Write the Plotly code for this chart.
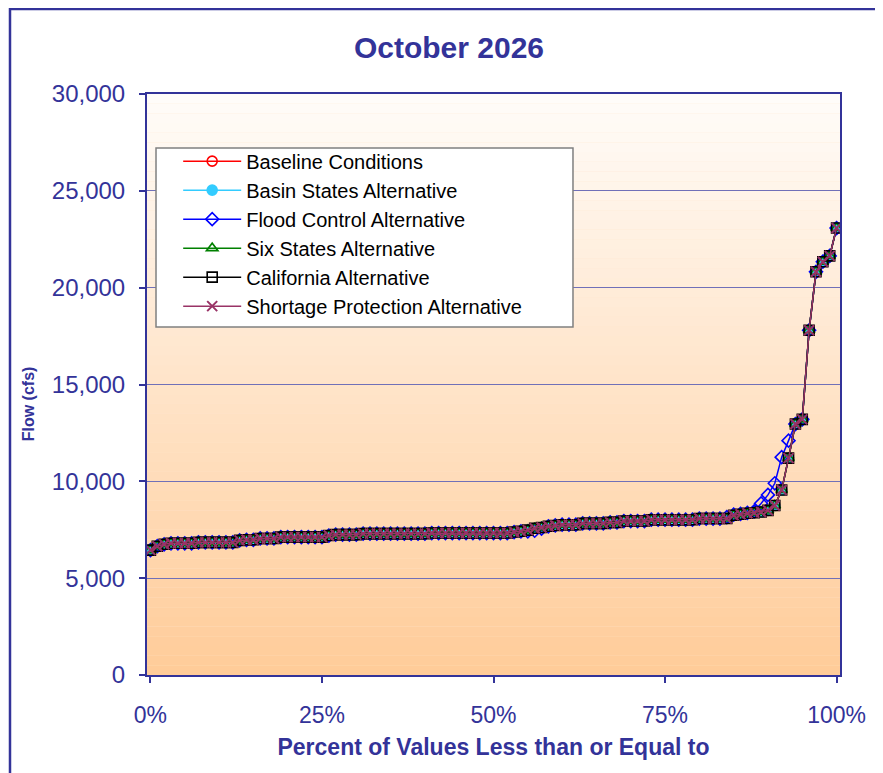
import numpy as np
import plotly.graph_objects as go

# Flow duration values for October 2026, sorted ascending (cfs), one per percent step
baseline = [
    6450, 6650, 6750, 6800, 6800, 6800, 6800, 6850, 6850, 6850,
    6850, 6850, 6850, 6950, 6980, 6980, 7050, 7050, 7050, 7120,
    7120, 7120, 7120, 7120, 7120, 7120, 7200, 7250, 7250, 7250,
    7250, 7300, 7300, 7300, 7300, 7300, 7300, 7300, 7300, 7300,
    7300, 7330, 7330, 7330, 7330, 7330, 7330, 7330, 7330, 7330,
    7330, 7330, 7330, 7380, 7420, 7480, 7580, 7620, 7680, 7720,
    7760, 7760, 7760, 7830, 7830, 7830, 7830, 7880, 7880, 7950,
    7950, 7950, 7950, 8020, 8020, 8020, 8020, 8020, 8020, 8020,
    8080, 8080, 8080, 8080, 8080, 8250, 8300, 8350, 8380, 8420,
    8500, 8750, 9550, 11200, 12960, 13200, 17800, 20820, 21340, 21640,
    23080,
]
flood_control = [
    6450, 6650, 6750, 6800, 6800, 6800, 6800, 6850, 6850, 6850,
    6850, 6850, 6850, 6950, 6980, 6980, 7050, 7050, 7050, 7120,
    7120, 7120, 7120, 7120, 7120, 7120, 7200, 7250, 7250, 7250,
    7250, 7300, 7300, 7300, 7300, 7300, 7300, 7300, 7300, 7300,
    7300, 7330, 7330, 7330, 7330, 7330, 7330, 7330, 7330, 7330,
    7330, 7330, 7330, 7380, 7420, 7420, 7450, 7560, 7680, 7720,
    7760, 7760, 7760, 7830, 7830, 7830, 7830, 7880, 7880, 7950,
    7950, 7950, 7950, 8020, 8020, 8020, 8020, 8020, 8020, 8020,
    8080, 8080, 8080, 8080, 8150, 8280, 8320, 8370, 8450, 8860,
    9300, 9900, 11250, 12100, 12960, 13200, 17800, 20820, 21340, 21640,
    23080,
]
# the other alternatives overlap the baseline curve at this scale
basin_states = list(baseline)
six_states = list(baseline)
california = list(baseline)
shortage_protection = list(baseline)

percent = np.arange(len(baseline)) / (len(baseline) - 1)

series = [
    ("Baseline Conditions", baseline, "#FF0000", "circle-open"),
    ("Basin States Alternative", basin_states, "#33CCFF", "circle"),
    ("Flood Control Alternative", flood_control, "#0000FF", "diamond-open"),
    ("Six States Alternative", six_states, "#008000", "triangle-up-open"),
    ("California Alternative", california, "#000000", "square-open"),
    ("Shortage Protection Alternative", shortage_protection, "#993366", "x-thin-open"),
]

NAVY = "#333399"
FONT = "Liberation Sans, Arial, sans-serif"

fig = go.Figure()
for i, (name, vals, color, symbol) in enumerate(series):
    fig.add_trace(go.Scatter(
        x=percent, y=vals, name=name, mode="lines+markers",
        legendgroup=str(i),
        line=dict(color=color, width=1.5),
        marker=dict(symbol=symbol, size=10, color=color,
                    line=dict(color=color, width=1.6 if symbol != "x-thin-open" else 2)),
    ))

# gradient fill of the plot area (white at top to peach at bottom)
shapes = []
nb = 60
top = np.array([255, 253, 250])
bot = np.array([255, 204, 153])
for k in range(nb):
    t = (k + 0.5) / nb
    c = bot + (top - bot) * t
    shapes.append(dict(type="rect", xref="paper", yref="paper",
                       x0=0, x1=1, y0=k / nb, y1=(k + 1) / nb,
                       fillcolor="rgb(%d,%d,%d)" % tuple(c), line=dict(width=0),
                       layer="below"))
# legend box
shapes.append(dict(type="rect", xref="paper", yref="paper",
                   x0=0.013, x1=0.6147, y0=0.599, y1=0.907,
                   fillcolor="white", line=dict(color="#808080", width=1.5),
                   layer="above"))
# outer chart border
shapes.append(dict(type="rect", xref="paper", yref="paper",
                   x0=-0.1977, x1=1.08, y0=-0.22, y1=1.1463,
                   line=dict(color=NAVY, width=2.5), layer="above"))

fig.update_layout(
    width=875, height=765,
    margin=dict(l=139, r=43, t=86, b=98),
    paper_bgcolor="white", plot_bgcolor="#FFE5CC",
    font=dict(family=FONT, color=NAVY),
    title=dict(text="<b>October 2026</b>", x=0.504, xref="container",
               y=0.949, yref="container", xanchor="center", yanchor="middle",
               font=dict(size=30, color=NAVY, family=FONT)),
    shapes=shapes,
    showlegend=True,
    legend=dict(x=0.045, y=0.918, xanchor="left", yanchor="top",
                bgcolor="rgba(0,0,0,0)", borderwidth=0,
                font=dict(size=20, color="black", family=FONT),
                itemwidth=58, tracegroupgap=2, traceorder="normal"),
    annotations=[dict(text="<b>Flow (cfs)</b>", textangle=-90,
                      xref="paper", yref="paper", x=-0.1717, y=0.466,
                      xanchor="center", yanchor="middle", showarrow=False,
                      font=dict(size=16, color=NAVY, family=FONT))],
)

fig.update_xaxes(
    range=[-0.005, 1.005], tickvals=[0, 0.25, 0.5, 0.75, 1], tickformat=".0%",
    showgrid=False, zeroline=False,
    showline=True, linecolor=NAVY, linewidth=2, mirror=True,
    ticks="outside", ticklen=6, tickcolor=NAVY, tickwidth=1.5,
    tickfont=dict(size=23, color=NAVY), ticklabelstandoff=12,
    title=dict(text="<b>Percent of Values Less than or Equal to</b>",
               font=dict(size=23, color=NAVY), standoff=12),
)
fig.update_yaxes(
    range=[0, 30000], dtick=5000, tickformat=",",
    showgrid=True, gridcolor="#7070B8", gridwidth=1, zeroline=False,
    showline=True, linecolor=NAVY, linewidth=2, mirror=True,
    ticks="outside", ticklen=6, tickcolor=NAVY, tickwidth=1.5,
    tickfont=dict(size=24, color=NAVY), ticklabelstandoff=9,
)

fig.write_html("out.html")
